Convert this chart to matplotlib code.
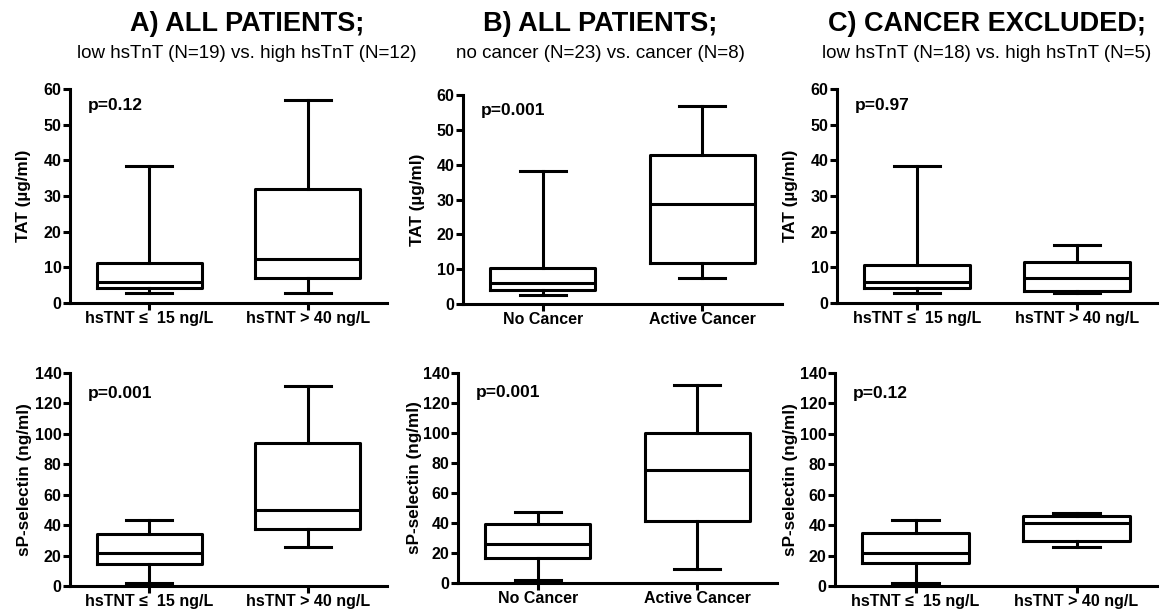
import matplotlib.pyplot as plt

plt.rcParams['font.family'] = ['Liberation Sans', 'DejaVu Sans']

W, H = 1164, 615

titles = ['A) ALL PATIENTS;', 'B) ALL PATIENTS;', 'C) CANCER EXCLUDED;']
subtitles = ['low hsTnT (N=19) vs. high hsTnT (N=12)',
             'no cancer (N=23) vs. cancer (N=8)',
             'low hsTnT (N=18) vs. high hsTnT (N=5)']
groups = [['hsTNT \u2264  15 ng/L', 'hsTNT > 40 ng/L'],
          ['No Cancer', 'Active Cancer'],
          ['hsTNT \u2264  15 ng/L', 'hsTNT > 40 ng/L']]
p_tat = ['p=0.12', 'p=0.001', 'p=0.97']
p_sel = ['p=0.001', 'p=0.001', 'p=0.12']

# (whisker low, q1, median, q3, whisker high)
tat_a = [(2.8, 4.3, 5.9, 11.2, 38.3), (2.8, 6.9, 12.2, 31.9, 57.0)]
tat_b = [(2.6, 4.0, 6.0, 10.3, 38.3), (7.5, 11.7, 28.6, 42.7, 56.8)]
tat_c = [(2.8, 4.2, 5.9, 10.6, 38.3), (2.8, 3.4, 6.9, 11.5, 16.3)]
sel_a = [(2.0, 14.4, 21.5, 34.3, 43.4), (25.7, 37.5, 50.0, 94.0, 131.6)]
sel_b = [(2.0, 16.7, 26.0, 39.3, 47.3), (9.3, 41.3, 75.3, 100.0, 132.0)]
sel_c = [(2.0, 15.0, 21.5, 34.9, 43.4), (25.7, 29.6, 41.4, 46.0, 47.8)]

tat_all = [tat_a, tat_b, tat_c]
sel_all = [sel_a, sel_b, sel_c]

# axes boxes in pixels: left, y of zero, right, y of top
top_boxes = [(70, 303, 387, 89), (463, 304, 782, 95), (837, 303, 1157, 89)]
bot_boxes = [(70, 586, 387, 373), (458, 583, 777, 373), (835, 586, 1157, 373)]
# x pixel of the y-label centre
top_ylab_x = [24, 418, 791]
bot_ylab_x = [25, 415, 790]
title_x = [247, 600, 987]

fig = plt.figure(figsize=(W / 100, H / 100), dpi=100)


def make_axes(box):
    l, y0, r, yt = box
    return fig.add_axes([l / W, 1 - y0 / H, (r - l) / W, (y0 - yt) / H])


def draw_panel(ax, box, lab_x, stats, labels, ymax, ystep, ylabel, ptext):
    bxp_stats = []
    for s, lab in zip(stats, labels):
        bxp_stats.append(dict(whislo=s[0], q1=s[1], med=s[2], q3=s[3], whishi=s[4],
                              fliers=[], label=lab))
    lw = 2.2
    ax.bxp(bxp_stats, positions=[1, 2], widths=0.66, showfliers=False,
           capwidths=0.29,
           boxprops=dict(color='black', linewidth=lw),
           medianprops=dict(color='black', linewidth=lw),
           whiskerprops=dict(color='black', linewidth=lw),
           capprops=dict(color='black', linewidth=lw))
    ax.set_xlim(0.5, 2.5)
    ax.set_ylim(0, ymax)
    ax.set_yticks(range(0, ymax + 1, ystep))
    for side in ['top', 'right']:
        ax.spines[side].set_visible(False)
    for side in ['left', 'bottom']:
        ax.spines[side].set_linewidth(2.2)
    ax.tick_params(axis='both', width=2.2, length=5, labelsize=11.5, pad=1)
    for t in ax.get_xticklabels() + ax.get_yticklabels():
        t.set_fontweight('bold')
    ax.set_ylabel(ylabel, fontsize=12.3, fontweight='bold', va='center')
    ax.yaxis.set_label_coords((lab_x - box[0]) / (box[2] - box[0]), 0.5)
    ax.text(0.055, 0.925 if ymax == 60 else 0.905, ptext, transform=ax.transAxes,
            fontsize=12.5, fontweight='bold', va='center', ha='left')


for i in range(3):
    ax1 = make_axes(top_boxes[i])
    draw_panel(ax1, top_boxes[i], top_ylab_x[i], tat_all[i], groups[i], 60, 10,
               'TAT (\u00b5g/ml)', p_tat[i])
    ax2 = make_axes(bot_boxes[i])
    draw_panel(ax2, bot_boxes[i], bot_ylab_x[i], sel_all[i], groups[i], 140, 20,
               'sP-selectin (ng/ml)', p_sel[i])
    fig.text(title_x[i] / W, 1 - 24 / H, titles[i], fontsize=19.5, fontweight='bold',
             ha='center', va='center')
    fig.text(title_x[i] / W, 1 - 53 / H, subtitles[i], fontsize=13.5,
             ha='center', va='center')

fig.savefig('out.png', dpi=100, facecolor='white')
